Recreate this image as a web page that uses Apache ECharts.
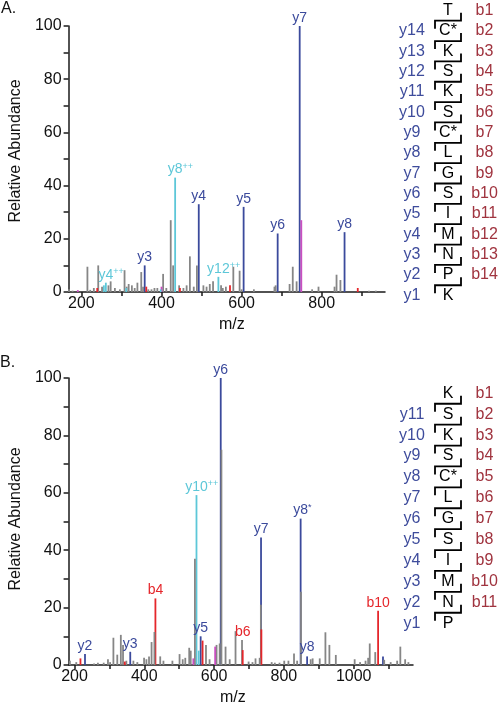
<!DOCTYPE html>
<html>
<head>
<meta charset="utf-8">
<script src="https://cdn.jsdelivr.net/npm/echarts@6/dist/echarts.min.js"></script>
<style>html,body{margin:0;padding:0;background:#fff}#c{width:500px;height:708px}</style>
</head>
<body>
<div id="c"></div>
<script>
// ---------------- DATA ----------------
// Panel A axis
const A_mzRange = [168, 958];
const A_xTicks = [200, 300, 400, 500, 600, 700, 800, 900];
const A_xLabels = [200, 400, 600, 800];
// Panel B axis
const B_mzRange = [183, 1170];
const B_xTicks = [200, 300, 400, 500, 600, 700, 800, 900, 1000, 1100];
const B_xLabels = [200, 400, 600, 800, 1000];
// Y axis (both)
const yTicks = [0, 10, 20, 30, 40, 50, 60, 70, 80, 90, 100];
const yLabels = [0, 20, 40, 60, 80, 100];

// Panel A peaks [m/z, relative abundance]
const A_gray = [[169,1],[178,0.5],[215,9.5],[222,0.8],[231,1.5],[242,10],[251.5,2],[267.5,2.5],[273,4],[283.6,1.5],[296,1],[307.7,8.2],[313,2],[318,3],[326,2.5],[333,1.5],[339.8,3.5],[349.4,7.5],[354,2],[367,1],[375,1],[382.4,1.5],[389.6,1.5],[404,6.8],[412,1.5],[423,27],[429,10],[444,2.5],[454.7,1.5],[462.7,2.5],[470.8,13.4],[480.5,2],[488.4,10],[504.6,2.5],[512.5,2],[520.5,3],[528.7,4],[548.7,2.5],[553,1.5],[560.7,2],[579.3,9.5],[595,8],[600,1],[630.6,1],[682,2],[685,2.5],[719.8,3],[727.7,9.5],[737.3,4],[776,1],[792,2],[832,2],[837,6.5],[846.7,4.5],[918,0.5],[935,0.5]];
const A_blue = [[358,10],[493,33],[605,32],[690,22],[745,100],[857,22.5]];
const A_cyan = [[256,2.5],[261,3.5],[312,1.5],[398,1],[434,43],[542,5.7]];
const A_red = [[239.5,1.5],[362,2],[446,1.5],[571,2.5],[890,1.5]];
const A_magenta = [[191,0.7],[400,2],[749,27]];
// Panel A annotations [name, superscript, m/z, abundance, colour key]
const A_labels = [['y3','',358,10,'blue'],['y4','',493,33,'blue'],['y5','',605,32,'blue'],['y6','',690,22,'blue'],['y7','',745,100,'blue'],['y8','',857,22.5,'blue'],['y8','++',434,43,'cyan'],['y4','++',261,3.5,'cyan'],['y12','++',542,5.7,'cyan']];

// Panel B peaks
const B_gray = [[186.7,1.5],[205,1],[256,0.5],[267,0.8],[283.6,0.8],[295.8,2],[302,1],[311.4,9.5],[322.5,3.6],[332.7,10.5],[339,7],[348.5,1.5],[368.7,1.5],[380,1],[399.3,2.5],[406,2],[413.5,3],[420.8,8],[429,11.5],[445.6,3],[454.8,1.5],[480.5,1.5],[501,3.8],[510,2],[517.4,2.5],[528.7,6],[533,5],[545,37],[576.7,7],[587,2],[607,7],[616,7.5],[621,75],[632.8,6.4],[644.7,2],[661.4,11.8],[680,8.7],[698.9,1.2],[710,1],[718.7,2.3],[730.6,2.5],[734,21],[765,1],[774,0.8],[787.4,0.8],[801,1.5],[813,1.5],[829,4],[838,1.5],[849,25.5],[876.8,2],[882.4,2.3],[902.7,2.3],[919,11.4],[930.4,7],[948.8,3.5],[1002.8,2],[1018.4,1],[1034,1.5],[1041.5,2.5],[1046,7.5],[1061.8,4.5],[1087.5,1.8],[1106,1],[1124.6,1.5],[1133.7,6.4],[1147.5,2],[1156.8,1]];
const B_blue = [[230,3.8],[359.7,4.6],[561.5,10],[619,100],[734.5,44.4],[848,51],[866.6,3],[1084,3]];
const B_cyan = [[549.5,59.2],[556,5]];
const B_red = [[217,2.3],[344,1.2],[431.8,23.2],[567,8.5],[682,5.2],[735.5,12.4],[1070,18.9]];
const B_magenta = [[540.5,2.3],[603,6.4]];
const B_labels = [['y2','',230,3.8,'blue'],['y3','',359.7,4.6,'blue'],['b4','',431.8,23.2,'red'],['y10','++',549.5,59.2,'cyan'],['y5','',561.5,10,'blue'],['b6','',682,8.7,'red'],['y6','',619,100,'blue'],['y7','',734.5,44.4,'blue'],['y8','*',848,51,'blue'],['y8','',866.6,3.5,'blue'],['b10','',1070,18.9,'red']];

// Sequence ladders
const A_residues = ['T','C*','K','S','K','S','C*','L','G','S','I','M','N','P','K'];
const A_yIons = ['','y14','y13','y12','y11','y10','y9','y8','y7','y6','y5','y4','y3','y2','y1'];
const A_bIons = ['b1','b2','b3','b4','b5','b6','b7','b8','b9','b10','b11','b12','b13','b14',''];
const B_residues = ['K','S','K','S','C*','L','G','S','I','M','N','P'];
const B_yIons = ['','y11','y10','y9','y8','y7','y6','y5','y4','y3','y2','y1'];
const B_bIons = ['b1','b2','b3','b4','b5','b6','b7','b8','b9','b10','b11',''];

// ---------------- STYLE ----------------
const FONT = '"Liberation Sans", Arial, Helvetica, sans-serif';
const COL = {gray:'#868686', blue:'#3b4a9c', cyan:'#5dc7d8', red:'#e5262b', magenta:'#c94fc0'};
const LADDER_Y = '#3e4c9c', LADDER_B = '#a0343f';
const KEYS = ['gray','blue','cyan','red','magenta'];

function mergePeaks(groups) {
  const out = [];
  groups.forEach((g, ci) => g.forEach(p => out.push([p[0], p[1], ci])));
  out.sort((a, b) => b[1] - a[1]); // tallest first so shorter are drawn on top
  return out;
}
const A_peaks = mergePeaks([A_gray, A_blue, A_cyan, A_red, A_magenta]);
const B_peaks = mergePeaks([B_gray, B_blue, B_cyan, B_red, B_magenta]);

function renderPeak(params, api) {
  const p0 = api.coord([api.value(0), 0]);
  const p1 = api.coord([api.value(0), api.value(1)]);
  return {type:'line', shape:{x1:p0[0], y1:p0[1], x2:p1[0], y2:p1[1]},
          style:{stroke: COL[KEYS[api.value(2)]], lineWidth:1.8}};
}

const mctx = document.createElement('canvas').getContext('2d');
function makeLabelRenderer(labels) {
  return function(params, api) {
    const L = labels[params.dataIndex];
    const p = api.coord([L[2], L[3]]);
    const fill = COL[L[4]];
    mctx.font = '14px ' + FONT;
    const w = mctx.measureText(L[0]).width;
    const children = [{type:'text', style:{x:p[0], y:p[1]-1, text:L[0], fill, font:'14px ' + FONT, align:'center', verticalAlign:'bottom'}}];
    if (L[1]) children.push({type:'text', style:{x:p[0]+w/2, y:p[1]-7, text:L[1], fill, font:'9px ' + FONT, align:'left', verticalAlign:'bottom'}});
    return {type:'group', children};
  };
}

function xAxisCfg(gi, range, ticks, labels, namePad) {
  return {type:'value', gridIndex:gi, min:range[0], max:range[1],
    axisLine:{show:true, onZero:false, lineStyle:{color:'#1a1a1a', width:1.5}},
    axisTick:{show:true, customValues:ticks, length:4, lineStyle:{color:'#1a1a1a', width:1.5}},
    axisLabel:{customValues:labels, formatter:v => String(v), fontSize:16, fontFamily:FONT, color:'#111', margin:4},
    splitLine:{show:false},
    name:'m/z', nameLocation:'middle', nameGap:25,
    nameTextStyle:{fontSize:16, fontFamily:FONT, color:'#111', padding:namePad}};
}
function yAxisCfg(gi, namePad) {
  return {type:'value', gridIndex:gi, min:0, max:100,
    axisLine:{show:true, lineStyle:{color:'#1a1a1a', width:1.5}},
    axisTick:{show:true, customValues:yTicks, length:5, lineStyle:{color:'#1a1a1a', width:1.5}},
    axisLabel:{customValues:yLabels, fontSize:16, fontFamily:FONT, color:'#111', margin:7},
    splitLine:{show:false},
    name:'Relative Abundance', nameLocation:'middle', nameGap:42,
    nameTextStyle:{fontSize:16, fontFamily:FONT, color:'#111', padding:namePad}};
}

function ladder(residues, yIons, bIons, y0, step) {
  const els = [];
  const xc = 448, xy = 412, xb = 484.5, xl = 435, xr = 461, arm = 8;
  residues.forEach((r, i) => {
    const y = y0 + step * i;
    els.push({type:'text', style:{x:xc, y, text:r, fill:'#000', font:'16px ' + FONT, align:'center', verticalAlign:'middle'}});
    if (yIons[i]) els.push({type:'text', style:{x:xy, y, text:yIons[i], fill:LADDER_Y, font:'16px ' + FONT, align:'center', verticalAlign:'middle'}});
    if (bIons[i]) els.push({type:'text', style:{x:xb, y, text:bIons[i], fill:LADDER_B, font:'16px ' + FONT, align:'center', verticalAlign:'middle'}});
    if (i < residues.length - 1) {
      const yb = y + step / 2;
      els.push({type:'polyline', shape:{points:[[xl, yb + arm],[xl, yb],[xr, yb],[xr, yb - arm]]},
                style:{stroke:'#000', lineWidth:1.8, fill:null}});
    }
  });
  return els;
}

const chart = echarts.init(document.getElementById('c'), null, {renderer:'canvas'});
chart.setOption({
  animation:false,
  backgroundColor:'#fff',
  grid:[{left:57, top:26, width:328, height:266}, {left:57, top:378, width:356, height:287}],
  xAxis:[xAxisCfg(0, A_mzRange, A_xTicks, A_xLabels, [0,0,0,10]), xAxisCfg(1, B_mzRange, B_xTicks, B_xLabels, [0,16,0,0])],
  yAxis:[yAxisCfg(0, [0,0,0,16]), yAxisCfg(1, [0,0,0,5])],
  series:[
    {type:'custom', xAxisIndex:0, yAxisIndex:0, data:A_peaks, encode:{x:0, y:1}, renderItem:renderPeak, clip:false},
    {type:'custom', xAxisIndex:1, yAxisIndex:1, data:B_peaks, encode:{x:0, y:1}, renderItem:renderPeak, clip:false},
    {type:'custom', xAxisIndex:0, yAxisIndex:0, data:A_labels.map(l => [l[2], l[3]]), encode:{x:0, y:1}, renderItem:makeLabelRenderer(A_labels), clip:false, z:5},
    {type:'custom', xAxisIndex:1, yAxisIndex:1, data:B_labels.map(l => [l[2], l[3]]), encode:{x:0, y:1}, renderItem:makeLabelRenderer(B_labels), clip:false, z:5}
  ],
  graphic:[
    {type:'text', left:1, top:1, style:{text:'A.', fill:'#111', font:'16px ' + FONT}},
    {type:'text', left:0, top:355, style:{text:'B.', fill:'#111', font:'16px ' + FONT}}
  ].concat(ladder(A_residues, A_yIons, A_bIons, 10.5, 20.35))
   .concat(ladder(B_residues, B_yIons, B_bIons, 393.3, 20.9))
});
</script>
</body>
</html>
